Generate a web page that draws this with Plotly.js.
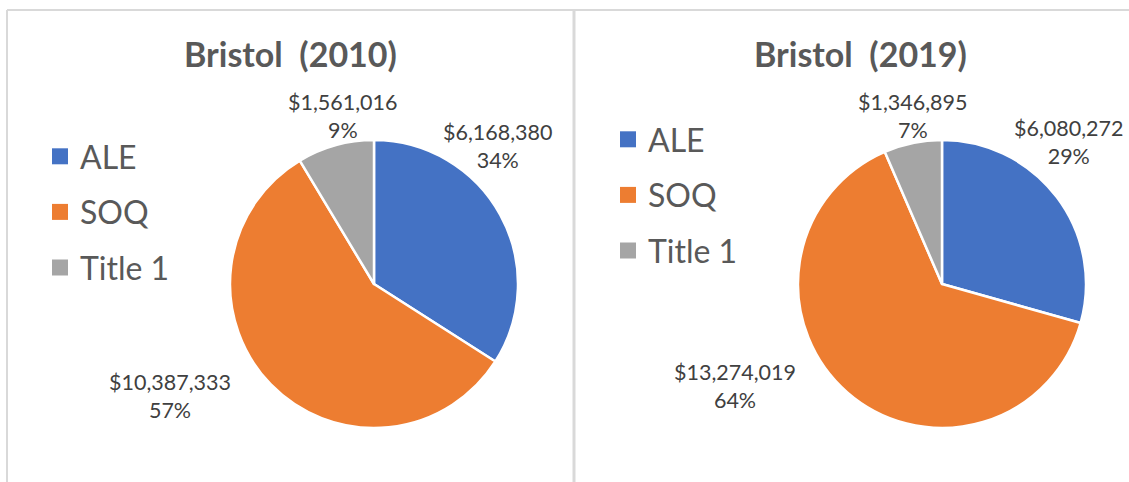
<!DOCTYPE html>
<html>
<head>
<meta charset="utf-8">
<script src="https://cdn.plot.ly/plotly-3.0.1.min.js"></script>
<style>html,body{margin:0;padding:0;background:#fff;}#chart{width:1129px;height:482px;}</style>
</head>
<body>
<div id="chart"></div>
<script>
// ---- data ----
const categories = ["ALE", "SOQ", "Title 1"];
const values2010 = [6168380, 10387333, 1561016];
const values2019 = [6080272, 13274019, 1346895];
const chartTitles = ["Bristol  (2010)", "Bristol  (2019)"];
const colors = ["#4472C4", "#ED7D31", "#A5A5A5"];

// ---- layout helpers (pixels) ----
const W = 1129, H = 482;
const px = x => x / W;
const py = y => 1 - y / H;

function pctText(vals) {
  const tot = vals.reduce((a, b) => a + b, 0);
  return vals.map(v => "$" + v.toLocaleString("en-US") + "<br>" + Math.round(v / tot * 100) + "%");
}

// pie boxes: center x, center y, radius
const pies = [{cx: 374, cy: 284, r: 144}, {cx: 942, cy: 284, r: 144}];
// label centers (pixels) per pie, per category
const labelPos = [
  [[498, 146], [170, 396], [343, 116]],
  [[1069, 142], [735, 386], [913, 116]]
];

const series = [values2010, values2019];
const traces = [];
series.forEach((vals, i) => {
  const p = pies[i];
  traces.push({
    type: "pie",
    labels: categories,
    values: vals,
    sort: false,
    direction: "clockwise",
    rotation: 0,
    textinfo: "none",
    hoverinfo: "label+value+percent",
    showlegend: false,
    marker: {colors: colors, line: {color: "#ffffff", width: 2.5}},
    domain: {x: [px(p.cx - p.r), px(p.cx + p.r)], y: [py(p.cy + p.r), py(p.cy - p.r)]}
  });
});

// legend entries
["legend", "legend2"].forEach(lg => {
  categories.forEach((c, k) => {
    traces.push({
      type: "scatter", mode: "markers", x: [null], y: [null],
      name: c, legend: lg, legendgroup: lg + c,
      marker: {symbol: "square", size: 16, color: colors[k]},
      hoverinfo: "skip", showlegend: true
    });
  });
});

const annotations = [];
series.forEach((vals, i) => {
  const txt = pctText(vals);
  txt.forEach((t, k) => {
    annotations.push({
      xref: "paper", yref: "paper",
      x: px(labelPos[i][k][0]), y: py(labelPos[i][k][1]),
      xanchor: "center", yanchor: "middle",
      text: t, showarrow: false, align: "center",
      font: {family: "Lato, 'Open Sans', sans-serif", size: 21.5, color: "#404040"}
    });
  });
});
const titleX = [290, 860];
chartTitles.forEach((t, i) => {
  annotations.push({
    xref: "paper", yref: "paper", x: px(titleX[i]), y: py(53),
    xanchor: "center", yanchor: "middle", showarrow: false,
    text: "<b>" + t + "</b>",
    font: {family: "Lato, 'Open Sans', sans-serif", size: 34, color: "#595959"}
  });
});

const lineStyle = {color: "#d9d9d9", width: 2};
const shapes = [
  {type: "line", xref: "paper", yref: "paper", x0: px(7), x1: 1, y0: py(10), y1: py(10), line: lineStyle},
  {type: "line", xref: "paper", yref: "paper", x0: px(7), x1: px(7), y0: py(10), y1: 0, line: lineStyle},
  {type: "line", xref: "paper", yref: "paper", x0: px(574), x1: px(574), y0: py(10), y1: 0, line: {color: "#d9d9d9", width: 3}}
];

const legendBase = {
  font: {family: "Lato, 'Open Sans', sans-serif", size: 32, color: "#595959"},
  bgcolor: "rgba(0,0,0,0)", borderwidth: 0,
  xanchor: "left", yanchor: "top", traceorder: "grouped",
  tracegroupgap: 11, itemclick: false, itemdoubleclick: false
};

const layout = {
  width: W, height: H,
  margin: {l: 0, r: 0, t: 0, b: 0},
  paper_bgcolor: "#ffffff", plot_bgcolor: "#ffffff",
  xaxis: {visible: false}, yaxis: {visible: false},
  legend: Object.assign({}, legendBase, {x: px(40), y: py(129)}),
  legend2: Object.assign({}, legendBase, {x: px(608), y: py(112)}),
  annotations: annotations,
  shapes: shapes
};

Plotly.newPlot("chart", traces, layout, {displayModeBar: false, staticPlot: true});
</script>
</body>
</html>
